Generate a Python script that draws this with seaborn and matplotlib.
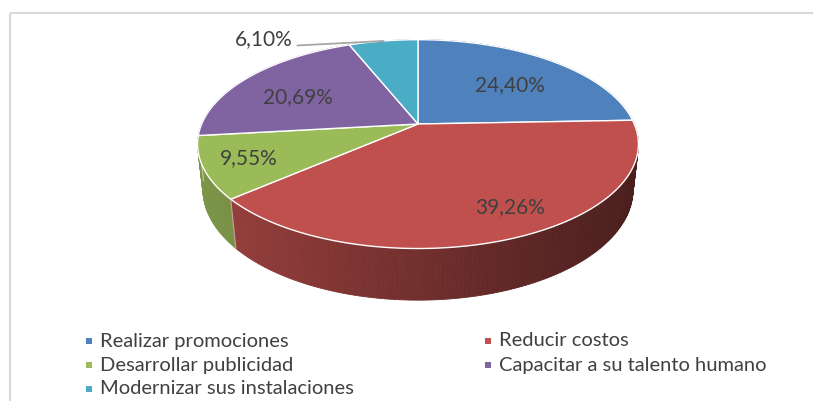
import numpy as np
import matplotlib
matplotlib.use("Agg")
import matplotlib.pyplot as plt
import seaborn as sns
from matplotlib.patches import Polygon, Rectangle
from matplotlib.colors import to_rgb

# ---- data ----
categories = ["Realizar promociones", "Reducir costos", "Desarrollar publicidad",
              "Capacitar a su talento humano", "Modernizar sus instalaciones"]
values = [24.40, 39.26, 9.55, 20.69, 6.10]
value_labels = ["24,40%", "39,26%", "9,55%", "20,69%", "6,10%"]
colors = ["#4f81bd", "#c0504d", "#9bbb59", "#8064a2", "#4bacc6"]

sns.set_theme(style="white")
plt.rcParams['font.family'] = ['Lato', 'DejaVu Sans']

W, H = 813, 401
fig = plt.figure(figsize=(W / 100, H / 100), dpi=100)
ax = fig.add_axes([0, 0, 1, 1])
ax.set_xlim(0, W)
ax.set_ylim(H, 0)
ax.axis('off')

# chart border
ax.add_patch(Rectangle((9.5, 12.5), W + 10, H + 10, fill=False, ec="#d9d9d9", lw=1.5, zorder=0))

# ---- 3D pie projection ----
CX, CY = 418, 124
F = 995.0
DIST = 4.6
ELEV = np.radians(27.7)
THICK = 0.24
se, ce = np.sin(ELEV), np.cos(ELEV)


def proj(theta, r=1.0, z=0.0):
    x = r * np.sin(theta)
    d = r * np.cos(theta)
    fwd = DIST + d * ce - z * se
    u = F * x / fwd
    v = F * (d * se + z * ce) / fwd
    return CX + u, CY - v, fwd


vals = np.array(values)
fr = vals / vals.sum()
bounds = np.concatenate([[0], np.cumsum(fr)]) * 2 * np.pi

# side faces
quads = []
for i, col in enumerate(colors):
    a0, a1 = bounds[i], bounds[i + 1]
    n = max(4, int(np.degrees(a1 - a0)))
    ts = np.linspace(a0, a1, n + 1)
    base = np.array(to_rgb(col))
    for t0, t1 in zip(ts[:-1], ts[1:]):
        x0, y0, _ = proj(t0)
        x1, y1, _ = proj(t1)
        x2, y2, _ = proj(t1, z=-THICK)
        x3, y3, _ = proj(t0, z=-THICK)
        _, _, fwd = proj((t0 + t1) / 2)
        xm = (x0 + x1) / 2
        fac = np.interp(xm, [200, 640], [0.80, 0.38])
        quads.append((fwd, [(x0, y0), (x1, y1), (x2, y2), (x3, y3)], np.clip(base * fac, 0, 1)))
quads.sort(key=lambda q: -q[0])
for _, pts, c in quads:
    ax.add_patch(Polygon(pts, closed=True, fc=c, ec=c, lw=0.6, zorder=1))

# side boundary lines between slices (front only)
for b in bounds[1:-1]:
    x0, y0, f0 = proj(b)
    x1, y1, _ = proj(b, z=-THICK)
    if np.cos(b) < -0.05:
        ax.plot([x0, x1], [y0, y1], color=(1, 1, 1, 0.5), lw=0.8, zorder=2)

# top faces
for i, col in enumerate(colors):
    ts = np.linspace(bounds[i], bounds[i + 1], 120)
    xs, ys, _ = proj(ts)
    pts = [(CX, CY)] + list(zip(xs, ys))
    ax.add_patch(Polygon(pts, closed=True, fc=col, ec="white", lw=1.0, zorder=3))

# ---- data labels ----
label_r = [0.62, 0.80, 0.80, 0.65]
label_shift_deg = [3.8, -5.8, 0.0, -5.0]
mids = (bounds[:-1] + bounds[1:]) / 2
for i in range(4):
    lx, ly, _ = proj(mids[i] + np.radians(label_shift_deg[i]), r=label_r[i])
    ax.text(lx, ly, value_labels[i], ha='center', va='center', fontsize=15,
            color="#404040", zorder=5)
# outside label with leader line
rx, ry, _ = proj(mids[4], r=1.0)
ax.plot([rx, rx - 86], [ry, ry + 4.5], color="#a6a6a6", lw=1.3, zorder=4)
ax.text(rx - 91, ry - 2, value_labels[4], ha='right', va='center', fontsize=15,
        color="#404040", zorder=5)

# ---- legend ----
col_x = [89, 488]
row_y = [341, 365, 389]
for k, name in enumerate(categories):
    cx = col_x[k % 2]
    cy = row_y[k // 2]
    ax.scatter([cx], [cy], marker='s', s=24, color=colors[k], linewidths=0, zorder=5)
    ax.text(cx + 11, cy, name, ha='left', va='center', fontsize=14.5,
            color="#404040", zorder=5)

fig.savefig("out.png", dpi=100)
